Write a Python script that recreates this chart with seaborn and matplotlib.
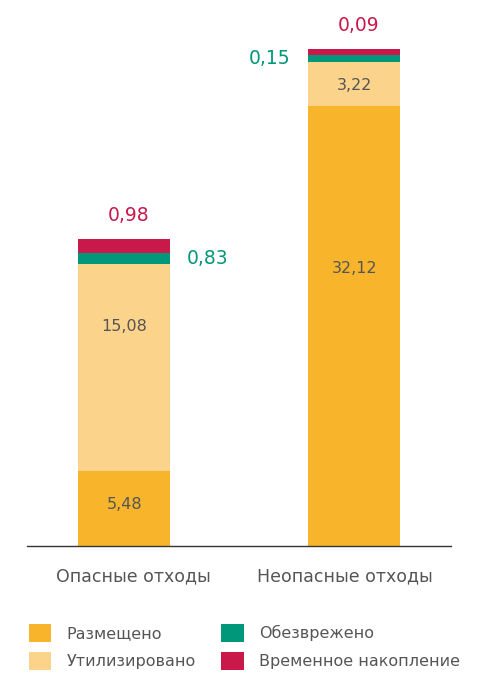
import numpy as np
import pandas as pd
import matplotlib
matplotlib.use('Agg')
import matplotlib.pyplot as plt
import seaborn as sns
from matplotlib.patches import Patch

# data
categories = ['Опасные отходы', 'Неопасные отходы']
series = ['Размещено', 'Утилизировано', 'Обезврежено', 'Временное накопление']
razmescheno = [5.48, 32.12]
utilizirovano = [15.08, 3.22]
obezvrezheno = [0.83, 0.15]
vremennoe = [0.98, 0.09]
colors = ['#F8B52C', '#FCD38A', '#00977A', '#C8194A']

sns.set_theme(style='white')
plt.rcParams['font.family'] = ['DejaVu Sans']
text_gray = '#555555'

fig = plt.figure(figsize=(4.9, 6.73), dpi=100)
ax = fig.add_axes([0.055, 0.1887, 0.865, 0.7964])

values = [razmescheno, utilizirovano, obezvrezheno, vremennoe]
# tiny segments get a minimum visible height, like the original layout
min_h = 0.45
bottoms = np.zeros(len(categories))
seg_bottoms = []
seg_heights = []
for vals, col in zip(values, colors):
    h = np.maximum(np.array(vals), min_h)
    sns.barplot(x=categories, y=h, bottom=bottoms, color=col, width=0.4,
                saturation=1, ax=ax, order=categories, linewidth=0, edgecolor='none')
    seg_bottoms.append(bottoms.copy())
    seg_heights.append(h)
    bottoms = bottoms + h

def fmt(v):
    return f'{v:.2f}'.replace('.', ',')

# labels inside the big segments (placed in upper part like original)
inner_frac = [[0.55, 0.63], [0.7, 0.45]]
for s in range(2):
    for i in range(2):
        y = seg_bottoms[s][i] + seg_heights[s][i] * inner_frac[s][i]
        ax.text(i, y, fmt(values[s][i]), ha='center', va='center',
                fontsize=11.5, color=text_gray)

# outside labels: top value (red) and green at the side
for i in range(2):
    ax.text(i + 0.02, bottoms[i] + 1.05, fmt(vremennoe[i]), ha='center', va='bottom',
            fontsize=13.5, color=colors[3])
green_x = [0.27, -0.28]
green_ha = ['left', 'right']
for i in range(2):
    y = seg_bottoms[2][i] + seg_heights[2][i] / 2
    ax.text(i + green_x[i], y, fmt(obezvrezheno[i]), ha=green_ha[i], va='center',
            fontsize=13.5, color=colors[2])

ax.set_xlim(-0.424, 1.42)
ax.set_ylim(0, 39.1)
ax.set_yticks([])
ax.set_xticks([])
ax.set_xlabel('')
for sp in ['top', 'right', 'left']:
    ax.spines[sp].set_visible(False)
ax.spines['bottom'].set_color('#333333')
ax.spines['bottom'].set_linewidth(1.0)

cat_shift = [0.04, -0.04]
for i, c in enumerate(categories):
    ax.text(i + cat_shift[i], -2.25, c, ha='center', va='center', fontsize=12.5,
            color=text_gray)

handles = [Patch(facecolor=c, edgecolor='none') for c in colors]
fig.legend(handles, series, ncol=2, loc='lower left', bbox_to_anchor=(0.03, -0.017),
           frameon=False, fontsize=11.5, handlelength=1.4, handleheight=1.4,
           handletextpad=0.95, columnspacing=1.6, labelspacing=0.6,
           labelcolor=text_gray)

fig.savefig('out.png', dpi=100, facecolor='white')
